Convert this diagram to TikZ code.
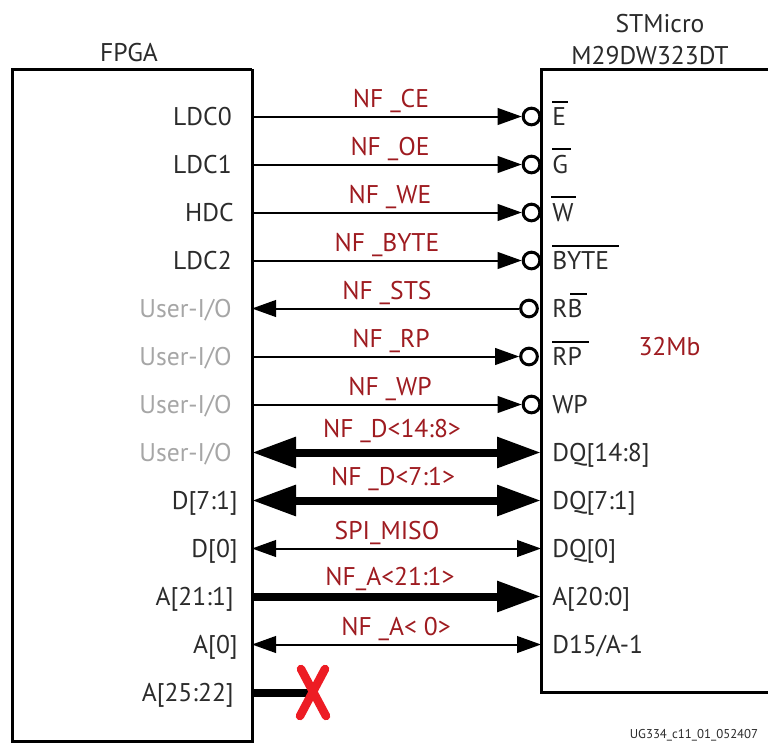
\documentclass[tikz,border=0pt]{standalone}
\usepackage{fontspec}
\setmainfont{PT Sans}
\usetikzlibrary{arrows.meta}
\definecolor{sigred}{HTML}{9E1B20}
\definecolor{pintext}{HTML}{2B2B2B}
\definecolor{usergray}{HTML}{A6A6A6}
\definecolor{xred}{HTML}{ED1C24}
\tikzset{
 x=0.75pt,y=-0.75pt,
 box/.style={draw=black,line width=2.25pt},
 thin sig/.style={line width=1.5pt},
 thick sig/.style={line width=6pt},
 tip s/.tip={Triangle[length=18pt,width=12.5pt]},
 tip l/.tip={Triangle[length=33pt,width=22pt]},
 bubble/.style={circle,draw=black,line width=2.25pt,fill=white,minimum size=12.5pt,inner sep=0pt},
 pin/.style={anchor=base west,yshift=-0.75pt,inner sep=0pt,text=pintext,font=\fontsize{19.2}{21}\selectfont},
 fpin/.style={anchor=base east,yshift=-0.75pt,inner sep=0pt,text=pintext,font=\fontsize{19.2}{21}\selectfont},
 upin/.style={fpin,text=usergray},
 sig/.style={anchor=base,yshift=-0.75pt,inner sep=0pt,text=sigred,font=\fontsize{19.2}{21}\selectfont},
 title/.style={anchor=base,yshift=-0.75pt,inner sep=0pt,text=pintext,font=\fontsize{19.2}{21}\selectfont},
 bar/.style={line width=1.5pt,draw=black},
}
\begin{document}
\begin{tikzpicture}
\useasboundingbox (0,0) rectangle (768,743);
% boxes
\draw[box] (252,69) -| (12,741) -| (252,69);
\draw[box] (768,69) -- (541,69) -- (541,692) -- (768,692);
\node[title] (tfpga) at (129,60) {FPGA};
\node[title] (tst1) at (660,31) {STMicro};
\node[title] (tst2) at (650,63) {M29DW323DT};
\node[sig] (size) at (669.5,354) {32Mb};
% anchors on box edges
\foreach \i/\y in {1/116.5,2/164.5,3/212.5,4/260.5,5/308.5,6/356.5,7/404.5,8/452.5,9/500.5,10/548.5,11/596.5,12/644.5,13/692.5}{
  \coordinate (L\i) at (252,\y);
  \coordinate (R\i) at (541,\y);
}
% bubbles
\node[bubble] (b1) at (531.5,116.5) {};
\node[bubble] (b2) at (531.5,164.5) {};
\node[bubble] (b3) at (531.5,212.5) {};
\node[bubble] (b4) at (531.5,260.5) {};
\node[bubble] (b5) at (529,308.5) {};
\node[bubble] (b6) at (529,356.5) {};
\node[bubble] (b7) at (531.5,404.5) {};
% signals
\draw[thin sig,-{tip s}] (L1) -- (b1);
\draw[thin sig,-{tip s}] (L2) -- (b2);
\draw[thin sig,-{tip s}] (L3) -- (b3);
\draw[thin sig,-{tip s}] (L4) -- (b4);
\draw[thin sig,-{tip s}] (b5) -- (L5);
\draw[thin sig,-{tip s}] (L6) -- (b6);
\draw[thin sig,-{tip s}] (L7) -- (b7);
\draw[thick sig,{tip l}-{tip l}] (L8) -- (R8);
\draw[thick sig,{tip l}-{tip l}] (L9) -- (R9);
\draw[thin sig,{tip s}-{tip s}] (L10) -- (R10);
\draw[thick sig,-{tip l}] (L11) -- (R11);
\draw[thin sig,{tip s}-{tip s}] (L12) -- (R12);
\coordinate (xc) at (313,692.5);
\draw[thick sig] (L13) -- (xc);
\draw[xred,line width=6.4pt,line cap=round] (301,669) -- (326,716);
\draw[xred,line width=6.4pt,line cap=round] (325,669) -- (300,716);
% signal names
\node[sig] (s1) at (391,106) {NF \_CE};
\node[sig] (s2) at (390,154) {NF \_OE};
\node[sig] (s3) at (390,202) {NF \_WE};
\node[sig] (s4) at (387,250) {NF \_BYTE};
\node[sig] (s5) at (387,298) {NF \_STS};
\node[sig] (s6) at (391,346) {NF \_RP};
\node[sig] (s7) at (390,394) {NF \_WP};
\node[sig] (s8) at (392,436) {NF \_D<14:8>};
\node[sig] (s9) at (393,484) {NF \_D<7:1>};
\node[sig] (s10) at (387,538) {SPI\_MISO};
\node[sig] (s11) at (390,584) {NF\_A<21:1>};
\node[sig] (s12) at (396,634) {NF \_A< 0>};
% FPGA pins
\node[fpin] (f1) at (232,124) {LDC0};
\node[fpin] (f2) at (232,172) {LDC1};
\node[fpin] (f3) at (234,220) {HDC};
\node[fpin] (f4) at (232,268) {LDC2};
\node[upin] (f5) at (232,316) {User-I/O};
\node[upin] (f6) at (232,364) {User-I/O};
\node[upin] (f7) at (232,412) {User-I/O};
\node[upin] (f8) at (232,460) {User-I/O};
\node[fpin] (f9) at (238,508) {D[7:1]};
\node[fpin] (f10) at (238,556) {D[0]};
\node[fpin] (f11) at (234,604) {A[21:1]};
\node[fpin] (f12) at (238,652) {A[0]};
\node[fpin] (f13) at (234,700) {A[25:22]};
% flash pins
\node[pin] (p1) at (552,124) {E};
\node[pin] (p2) at (552,172) {G};
\node[pin] (p3) at (552,220) {W};
\node[pin] (p4) at (552,268) {BYTE};
\node[pin] (p5) at (552,316) {RB};
\node[pin] (p6) at (552,364) {RP};
\node[pin] (p7) at (552,412) {WP};
\node[pin] (p8) at (552,460) {DQ[14:8]};
\node[pin] (p9) at (552,508) {DQ[7:1]};
\node[pin] (p10) at (552,556) {DQ[0]};
\node[pin] (p11) at (552,604) {A[20:0]};
\node[pin] (p12) at (552,652) {D15/A-1};
% overbars
\draw[bar] (552,102) -- (568,102);
\draw[bar] (552,148.5) -- (571,148.5);
\draw[bar] (551,196.5) -- (576,196.5);
\draw[bar] (552,245.5) -- (619,245.5);
\draw[bar] (570,294) -- (587,294);
\draw[bar] (552,342) -- (589,342);
% figure id
\node[anchor=base,inner sep=0pt,text=pintext,font=\fontsize{9.6}{11}\selectfont] (figid) at (694,738.5) {UG334\_c11\_01\_052407};
\end{tikzpicture}
\end{document}
